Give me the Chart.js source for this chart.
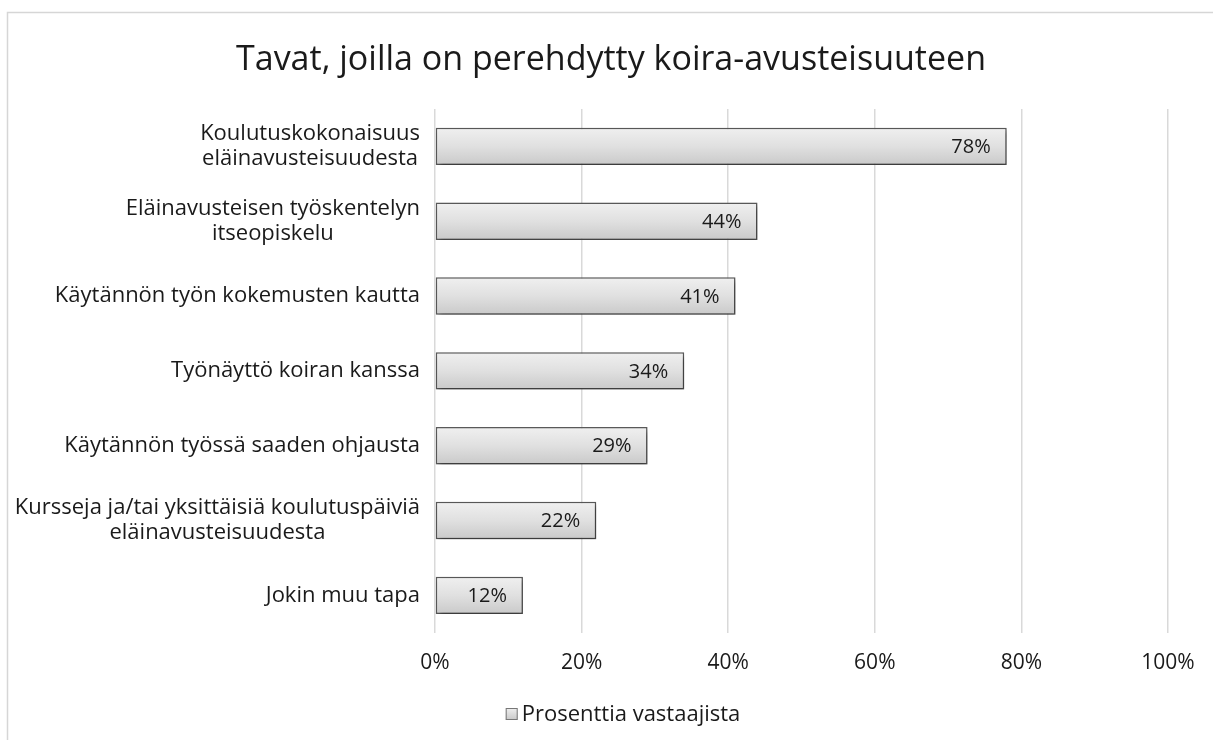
<!DOCTYPE html>
<html>
<head>
<meta charset="utf-8">
<script src="https://cdn.jsdelivr.net/npm/chart.js@4.4.1/dist/chart.umd.min.js"></script>
<style>
  html, body { margin: 0; padding: 0; background: #fff; }
  #wrap { position: relative; width: 1213px; height: 740px; }
</style>
</head>
<body>
<div id="wrap"><canvas id="myChart" width="1213" height="740"></canvas></div>
<script>
(function () {

    // chart data
    const chartTitle = 'Tavat, joilla on perehdytty koira-avusteisuuteen';
    const seriesName = 'Prosenttia vastaajista';
    const categories = [
        ['Koulutuskokonaisuus', 'eläinavusteisuudesta'],
        ['Eläinavusteisen työskentelyn', 'itseopiskelu'],
        ['Käytännön työn kokemusten kautta'],
        ['Työnäyttö koiran kanssa'],
        ['Käytännön työssä saaden ohjausta'],
        ['Kursseja ja/tai yksittäisiä koulutuspäiviä', 'eläinavusteisuudesta'],
        ['Jokin muu tapa']
    ];
    const values = [78, 44, 41, 34, 29, 22, 12];
    const xMin = 0, xMax = 100, xStep = 20;

    const FONT = "'Open Sans', 'Noto Sans', sans-serif";
    const TEXT = '#1a1a1a';

    // gray gradient per bar, like the excel bevel look
    function barGradient(c) {
        const chart = c.chart;
        if (!chart.chartArea || !chart.scales.y) return '#dcdcdc';
        const yc = chart.scales.y.getPixelForValue(c.dataIndex);
        const half = 19;
        const g = chart.ctx.createLinearGradient(0, yc - half, 0, yc + half);
        g.addColorStop(0, '#f0f0f0');
        g.addColorStop(0.5, '#e0e0e0');
        g.addColorStop(1, '#c9c9c9');
        return g;
    }

    // outer frame of the chart object
    const framePlugin = {
        id: 'frame',
        beforeDraw(chart) {
            const ctx = chart.ctx;
            ctx.save();
            ctx.strokeStyle = '#d6d6d6';
            ctx.lineWidth = 1.5;
            ctx.strokeRect(7.5, 12.5, 1400, 900);
            ctx.restore();
        }
    };

    // drop shadow under the bars
    const shadowPlugin = {
        id: 'barShadow',
        beforeDatasetsDraw(chart) {
            const ctx = chart.ctx;
            ctx.save();
            ctx.shadowColor = 'rgba(0,0,0,0.4)';
            ctx.shadowBlur = 5;
            ctx.shadowOffsetX = 2;
            ctx.shadowOffsetY = 3;
        },
        afterDatasetsDraw(chart) {
            chart.ctx.restore();
        }
    };

    // value labels at the inner end of each bar
    const valueLabels = {
        id: 'valueLabels',
        afterDatasetsDraw(chart) {
            const ctx = chart.ctx;
            const meta = chart.getDatasetMeta(0);
            ctx.save();
            ctx.font = '20px ' + FONT;
            ctx.fillStyle = TEXT;
            ctx.textAlign = 'right';
            ctx.textBaseline = 'middle';
            meta.data.forEach((bar, i) => {
                ctx.fillText(values[i] + '%', bar.x - 16, bar.y + 1);
            });
            ctx.restore();
        }
    };

    // category labels: block right aligned, lines centred to each other
    const catLabels = {
        id: 'catLabels',
        afterDraw(chart) {
            const ctx = chart.ctx;
            const ys = chart.scales.y;
            const right = chart.chartArea.left - 15;
            const lh = 25;
            ctx.save();
            ctx.font = '22px ' + FONT;
            ctx.fillStyle = TEXT;
            ctx.textAlign = 'center';
            ctx.textBaseline = 'middle';
            categories.forEach((lines, i) => {
                const yc = ys.getPixelForTick(i);
                const w = Math.max(...lines.map(l => ctx.measureText(l).width));
                const cx = right - w / 2;
                const y0 = yc - (lines.length - 1) * lh / 2;
                lines.forEach((l, k) => ctx.fillText(l, cx, y0 + k * lh));
            });
            ctx.restore();
        }
    };

    // title and legend, placed like in the excel original
    const titleLegend = {
        id: 'titleLegend',
        afterDraw(chart) {
            const ctx = chart.ctx;
            ctx.save();
            ctx.fillStyle = TEXT;
            ctx.textBaseline = 'middle';
            ctx.textAlign = 'center';
            ctx.font = '34px ' + FONT;
            ctx.fillText(chartTitle, 611, 60);

            ctx.font = '22px ' + FONT;
            const tw = ctx.measureText(seriesName).width;
            const box = 12, gap = 4;
            const left = 623 - (box + gap + tw) / 2;
            const ly = 714;
            const g = ctx.createLinearGradient(0, ly - box / 2, 0, ly + box / 2);
            g.addColorStop(0, '#efefef');
            g.addColorStop(1, '#c8c8c8');
            ctx.fillStyle = g;
            ctx.fillRect(left, ly - box / 2, box, box);
            ctx.strokeStyle = '#777';
            ctx.lineWidth = 1;
            ctx.strokeRect(left + 0.5, ly - box / 2 + 0.5, box - 1, box - 1);
            ctx.fillStyle = TEXT;
            ctx.textAlign = 'left';
            ctx.fillText(seriesName, left + box + gap, ly + 1);
            ctx.restore();
        }
    };

    const config = {
        type: 'bar',
        data: {
            labels: categories,
            datasets: [{
                label: seriesName,
                data: values,
                backgroundColor: barGradient,
                borderColor: '#5a5a5a',
                borderWidth: 1.5,
                borderSkipped: false,
                barPercentage: 0.5,
                categoryPercentage: 1.0
            }]
        },
        options: {
            indexAxis: 'y',
            responsive: false,
            animation: false,
            layout: {
                padding: { top: 109, left: 24, right: 45, bottom: 46 }
            },
            scales: {
                x: {
                    min: xMin,
                    max: xMax,
                    ticks: {
                        stepSize: xStep,
                        color: TEXT,
                        padding: 18,
                        font: { family: FONT, size: 21 },
                        callback: v => v + '%'
                    },
                    grid: {
                        color: '#d9d9d9',
                        lineWidth: 1.5,
                        drawTicks: false
                    },
                    border: { display: false }
                },
                y: {
                    ticks: { display: false },
                    grid: { display: false },
                    border: { display: false },
                    afterFit(scale) {
                        scale.width = 435 - 24;
                    }
                }
            },
            plugins: {
                title: { display: false },
                legend: { display: false },
                tooltip: { enabled: false }
            }
        },
        plugins: [framePlugin, shadowPlugin, valueLabels, catLabels, titleLegend]
    };

    new Chart(document.getElementById('myChart'), config);
})();
</script>
</body>
</html>
